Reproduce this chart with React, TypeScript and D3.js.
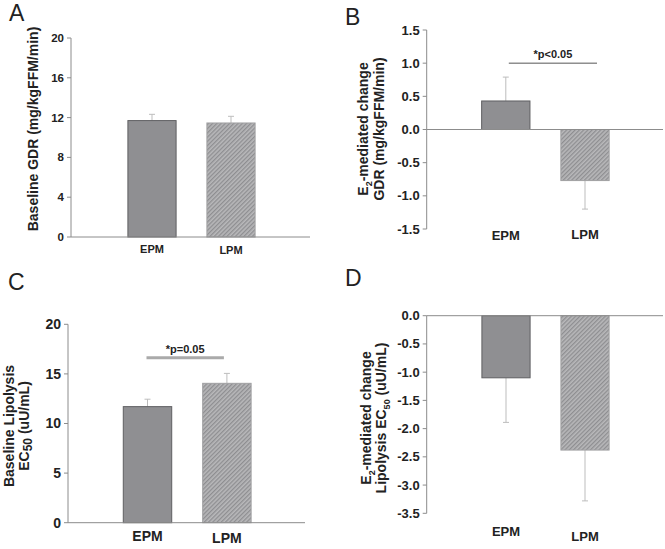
import React from "react";
import * as d3 from "d3";

const categories = ["EPM", "LPM"];

const gdrBaseline = [11.7, 11.46];
const gdrBaselineErr = [0.63, 0.67];
const gdrChange = [0.43, -0.77];
const gdrChangeErr = [0.36, 0.43];
const lipBaseline = [11.7, 14.05];
const lipBaselineErr = [0.75, 1.0];
const lipChange = [-1.1, -2.38];
const lipChangeErr = [0.79, 0.9];

const ticksA = [0, 4, 8, 12, 16, 20];
const ticksB = [-1.5, -1.0, -0.5, 0, 0.5, 1.0, 1.5];
const ticksC = [0, 5, 10, 15, 20];
const ticksD = [-3.5, -3.0, -2.5, -2.0, -1.5, -1.0, -0.5, 0];

const locale = d3.formatLocale({ decimal: ".", thousands: ",", grouping: [3], currency: ["", ""], minus: "-" });
const f0 = locale.format("d");
const f1 = locale.format(".1f");

const FONT = "'Liberation Sans', Arial, Helvetica, sans-serif";
const AXIS = "#8c8c8c";
const TEXT = "#222";

type Panel = {
  letter: string;
  letterX: number;
  letterY: number;
  values: number[];
  errs: number[];
  domain: [number, number];
  ticks: number[];
  fmt: (v: number) => string;
  axisX: number;
  axisEnd: number;
  yTop: number;
  yBottom: number;
  band: [number, number];
  tickFont: number;
  catFont: number;
  catY: number[];
  titleLines: React.ReactNode[];
  titleX: number[];
  titleY: number;
  sig?: { label: string; value: number; dx: [number, number]; width: number; color: string };
};

const panels: Panel[] = [
  {
    letter: "A", letterX: 9, letterY: 21,
    values: gdrBaseline, errs: gdrBaselineErr, domain: [0, 20], ticks: ticksA, fmt: f0,
    axisX: 71, axisEnd: 310, yTop: 38, yBottom: 237, band: [112.5, 270.5],
    tickFont: 11.5, catFont: 11, catY: [253, 254],
    titleLines: [<tspan>Baseline GDR (mg/kgFFM/min)</tspan>], titleX: [38], titleY: 129,
  },
  {
    letter: "B", letterX: 345, letterY: 25,
    values: gdrChange, errs: gdrChangeErr, domain: [-1.5, 1.5], ticks: ticksB, fmt: f1,
    axisX: 426.7, axisEnd: 663, yTop: 30, yBottom: 229, band: [466.2, 624.6],
    tickFont: 13, catFont: 13, catY: [240, 239],
    titleLines: [
      <><tspan>E</tspan><tspan fontSize={9} dy={4}>2</tspan><tspan dy={-4}>-mediated change</tspan></>,
      <tspan>GDR (mg/kgFFM/min)</tspan>,
    ],
    titleX: [368, 384], titleY: 129,
    sig: { label: "*p<0.05", value: 1.0, dx: [3, 12], width: 1, color: "#555" },
  },
  {
    letter: "C", letterX: 8, letterY: 290,
    values: lipBaseline, errs: lipBaselineErr, domain: [0, 20], ticks: ticksC, fmt: f0,
    axisX: 68, axisEnd: 305, yTop: 324.3, yBottom: 522.7, band: [107.8, 266.6],
    tickFont: 14, catFont: 14, catY: [541, 543],
    titleLines: [
      <tspan>Baseline Lipolysis</tspan>,
      <><tspan>EC</tspan><tspan fontSize={12} dy={3}>50</tspan><tspan dy={-3}> (uU/mL)</tspan></>,
    ],
    titleX: [13.5, 29], titleY: 426,
    sig: { label: "*p=0.05", value: 16.63, dx: [-1, -3], width: 3, color: "#aaa" },
  },
  {
    letter: "D", letterX: 345, letterY: 286,
    values: lipChange, errs: lipChangeErr, domain: [-3.5, 0], ticks: ticksD, fmt: f1,
    axisX: 426.7, axisEnd: 663, yTop: 315.7, yBottom: 513.3, band: [466.5, 624.5],
    tickFont: 13, catFont: 13, catY: [536, 541],
    titleLines: [
      <><tspan>E</tspan><tspan fontSize={9} dy={4}>2</tspan><tspan dy={-4}>-mediated change</tspan></>,
      <><tspan>Lipolysis EC</tspan><tspan fontSize={9} dy={4}>50</tspan><tspan dy={-4}> (uU/mL)</tspan></>,
    ],
    titleX: [371, 386], titleY: 418,
  },
];

function PanelView({ p, idx }: { p: Panel; idx: number }) {
  const y = d3.scaleLinear().domain(p.domain).range([p.yBottom, p.yTop]);
  const x = d3.scaleBand<string>().domain(categories).range(p.band).paddingInner(0.39).paddingOuter(0.195);
  const bw = x.bandwidth();
  const base = y(0);
  return (
    <g fontFamily={FONT}>
      <text x={p.letterX} y={p.letterY} fontSize={23} fill={TEXT}>{p.letter}</text>
      {/* y axis */}
      <line x1={p.axisX} x2={p.axisX} y1={p.yTop} y2={p.yBottom} stroke={AXIS} strokeWidth={1} />
      {p.ticks.map((t) => (
        <g key={t}>
          <line x1={p.axisX - 4} x2={p.axisX} y1={y(t)} y2={y(t)} stroke={AXIS} strokeWidth={1} />
          <text x={p.axisX - 7} y={y(t)} dy="0.35em" textAnchor="end" fontSize={p.tickFont} fontWeight="bold" fill={TEXT}>
            {p.fmt(t)}
          </text>
        </g>
      ))}
      {/* bars */}
      {categories.map((c, i) => {
        const v = p.values[i];
        const e = p.errs[i];
        const x0 = x(c)!;
        const cx = x0 + bw / 2;
        const yv = y(v);
        const ye = y(v >= 0 ? v + e : v - e);
        return (
          <g key={c}>
            <line x1={cx} x2={cx} y1={yv} y2={ye} stroke="#bdbdbd" strokeWidth={1} />
            <line x1={cx - 3} x2={cx + 3} y1={ye} y2={ye} stroke="#bdbdbd" strokeWidth={1} />
            <rect
              x={x0}
              y={Math.min(yv, base)}
              width={bw}
              height={Math.abs(yv - base)}
              fill={i === 0 ? "#8f8f92" : `url(#hatch${idx})`}
              stroke={i === 0 ? "#5f5f62" : "#a0a0a2"}
              strokeWidth={1}
            />
            <text x={cx} y={p.catY[i]} textAnchor="middle" fontSize={p.catFont} fontWeight="bold" fill={TEXT}>
              {c}
            </text>
          </g>
        );
      })}
      {/* x axis / zero line */}
      <line x1={p.axisX} x2={p.axisEnd} y1={base} y2={base} stroke={AXIS} strokeWidth={1} />
      {p.sig && (
        <g>
          <line
            x1={x(categories[0])! + bw / 2 + p.sig.dx[0]}
            x2={x(categories[1])! + bw / 2 + p.sig.dx[1]}
            y1={y(p.sig.value)}
            y2={y(p.sig.value)}
            stroke={p.sig.color}
            strokeWidth={p.sig.width}
          />
          <text
            x={(x(categories[0])! + x(categories[1])! + bw + p.sig.dx[0] + p.sig.dx[1]) / 2}
            y={y(p.sig.value) - 5}
            textAnchor="middle"
            fontSize={11}
            fontWeight="bold"
            fill={TEXT}
          >
            {p.sig.label}
          </text>
        </g>
      )}
      {p.titleLines.map((line, k) => (
        <text
          key={k}
          transform={`translate(${p.titleX[k]},${p.titleY}) rotate(-90)`}
          textAnchor="middle"
          fontSize={14}
          fontWeight="bold"
          fill={TEXT}
        >
          {line}
        </text>
      ))}
    </g>
  );
}

export default function App() {
  return (
    <svg width={665} height={549} style={{ position: "absolute", left: 0, top: 0, background: "#fff" }}>
      <defs>
        {panels.map((_, i) => (
          <pattern key={i} id={`hatch${i}`} patternUnits="userSpaceOnUse" width={3} height={3} patternTransform="rotate(45)">
            <rect width={3} height={3} fill="#b8b8ba" />
            <rect width={1.3} height={3} fill="#8e8e91" />
          </pattern>
        ))}
      </defs>
      <rect width={665} height={549} fill="#fff" />
      {panels.map((p, i) => (
        <PanelView key={p.letter} p={p} idx={i} />
      ))}
    </svg>
  );
}
